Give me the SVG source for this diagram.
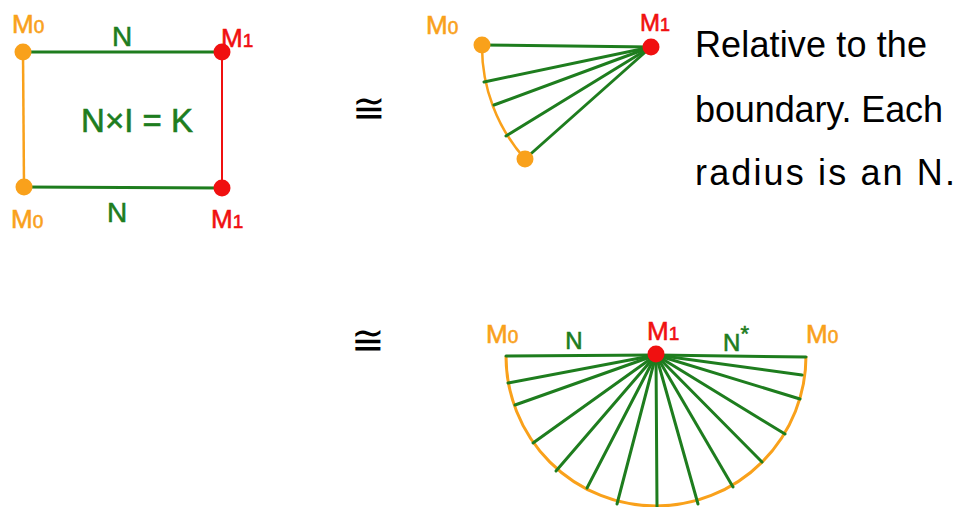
<svg xmlns="http://www.w3.org/2000/svg" width="964" height="507" viewBox="0 0 964 507">
<style>
.g{stroke:#1e7d1e;stroke-width:3;stroke-linecap:round;fill:none}
.o{stroke:#f9a11b;fill:none;stroke-width:2.5}
.r{stroke:#f01010;fill:none;stroke-width:2}
.od{fill:#f9a11b}
.rd{fill:#f01010}
.lo{fill:#f9a11b;stroke:#f9a11b;stroke-width:0.6;font-family:"Liberation Sans",Arial,sans-serif}
.lr{fill:#f01010;stroke:#f01010;stroke-width:0.6;font-family:"Liberation Sans",Arial,sans-serif}
.lg{fill:#1e7d1e;stroke:#1e7d1e;stroke-width:0.6;font-family:"Liberation Sans",Arial,sans-serif}
.lb{fill:#000;font-family:"Liberation Sans",Arial,sans-serif;font-size:36px}
.sym{fill:#000;font-family:"DejaVu Sans",sans-serif;font-size:40px}
</style>
<rect width="964" height="507" fill="#fff"/>
<g id="connectors">
  <line class="g" x1="23" y1="52" x2="222" y2="52"/>
  <line class="g" x1="24" y1="187" x2="222" y2="188"/>
  <line class="o" x1="23" y1="52" x2="24" y2="187"/>
  <line class="r" x1="222" y1="52" x2="222" y2="188"/>
  <path class="o" d="M482 45 A169 169 0 0 0 525 159"/>
  <g class="g">
    <line x1="651" y1="47" x2="482" y2="45"/>
    <line x1="651" y1="47" x2="484" y2="82"/>
    <line x1="651" y1="47" x2="494" y2="105"/>
    <line x1="651" y1="47" x2="506" y2="136"/>
    <line x1="651" y1="47" x2="525" y2="159"/>
  </g>
  <path class="o" style="stroke-width:3" d="M506 356 A150 150 0 0 0 806 356"/>
  <g class="g">
    <line x1="656" y1="355" x2="506" y2="356"/>
    <line x1="656" y1="355" x2="508" y2="383"/>
    <line x1="656" y1="355" x2="515" y2="405"/>
    <line x1="656" y1="355" x2="533" y2="443"/>
    <line x1="656" y1="355" x2="556" y2="471"/>
    <line x1="656" y1="355" x2="587" y2="488"/>
    <line x1="656" y1="355" x2="617" y2="504"/>
    <line x1="656" y1="355" x2="657" y2="507"/>
    <line x1="656" y1="355" x2="698" y2="504"/>
    <line x1="656" y1="355" x2="733" y2="487"/>
    <line x1="656" y1="355" x2="762" y2="462"/>
    <line x1="656" y1="355" x2="785" y2="434"/>
    <line x1="656" y1="355" x2="800" y2="399"/>
    <line x1="656" y1="355" x2="802" y2="375"/>
    <line x1="656" y1="355" x2="806" y2="357"/>
  </g>
</g>
<g id="rect-m0-top"><circle class="od" cx="23" cy="52" r="8.5"/><text class="lo" x="12" y="33" style="font-size:26px">M<tspan style="font-size:19px">0</tspan></text></g>
<g id="rect-m1-top"><circle class="rd" cx="222" cy="52" r="8.5"/><text class="lr" x="221" y="47" style="font-size:26px">M<tspan style="font-size:19px">1</tspan></text></g>
<g id="rect-m0-bottom"><circle class="od" cx="24" cy="187" r="8.5"/><text class="lo" x="11" y="228" style="font-size:26px">M<tspan style="font-size:19px">0</tspan></text></g>
<g id="rect-m1-bottom"><circle class="rd" cx="222" cy="188" r="8.5"/><text class="lr" x="211" y="228" style="font-size:26px">M<tspan style="font-size:19px">1</tspan></text></g>
<g id="rect-labels">
  <text class="lg" x="122" y="46" text-anchor="middle" style="font-size:28px">N</text>
  <text class="lg" x="117" y="222" text-anchor="middle" style="font-size:28px">N</text>
  <text class="lg" x="137" y="132" text-anchor="middle" style="font-size:33px">N×I = K</text>
</g>
<g id="cong1"><text class="sym" x="369" y="122" text-anchor="middle">≅</text></g>
<g id="cong2"><text class="sym" x="368" y="354" text-anchor="middle">≅</text></g>
<g id="fan-m0-top"><circle class="od" cx="482" cy="45" r="8.5"/><text class="lo" x="426" y="34" style="font-size:26px">M<tspan style="font-size:19px">0</tspan></text></g>
<g id="fan-m1"><circle class="rd" cx="651" cy="47" r="8.5"/><text class="lr" x="640" y="31" style="font-size:24px">M<tspan style="font-size:18px">1</tspan></text></g>
<g id="fan-m0-bottom"><circle class="od" cx="525" cy="159" r="8.5"/></g>
<g id="note">
  <text class="lb" x="695" y="57" textLength="232">Relative to the</text>
  <text class="lb" x="695" y="122" textLength="248">boundary. Each</text>
  <text class="lb" x="695" y="185" textLength="260">radius is an N.</text>
</g>
<g id="semi-m1"><circle class="rd" cx="656" cy="354" r="8.5"/><text class="lr" x="647" y="340" style="font-size:26px">M<tspan style="font-size:19px">1</tspan></text></g>
<g id="semi-m0-left"><text class="lo" x="486" y="343" style="font-size:26px">M<tspan style="font-size:19px">0</tspan></text></g>
<g id="semi-m0-right"><text class="lo" x="806" y="343" style="font-size:26px">M<tspan style="font-size:19px">0</tspan></text></g>
<g id="semi-labels">
  <text class="lg" x="574" y="349" text-anchor="middle" style="font-size:24px">N</text>
  <text class="lg" x="736" y="351" text-anchor="middle" style="font-size:24px">N<tspan dy="-10" style="font-size:22px">*</tspan></text>
</g>
</svg>
